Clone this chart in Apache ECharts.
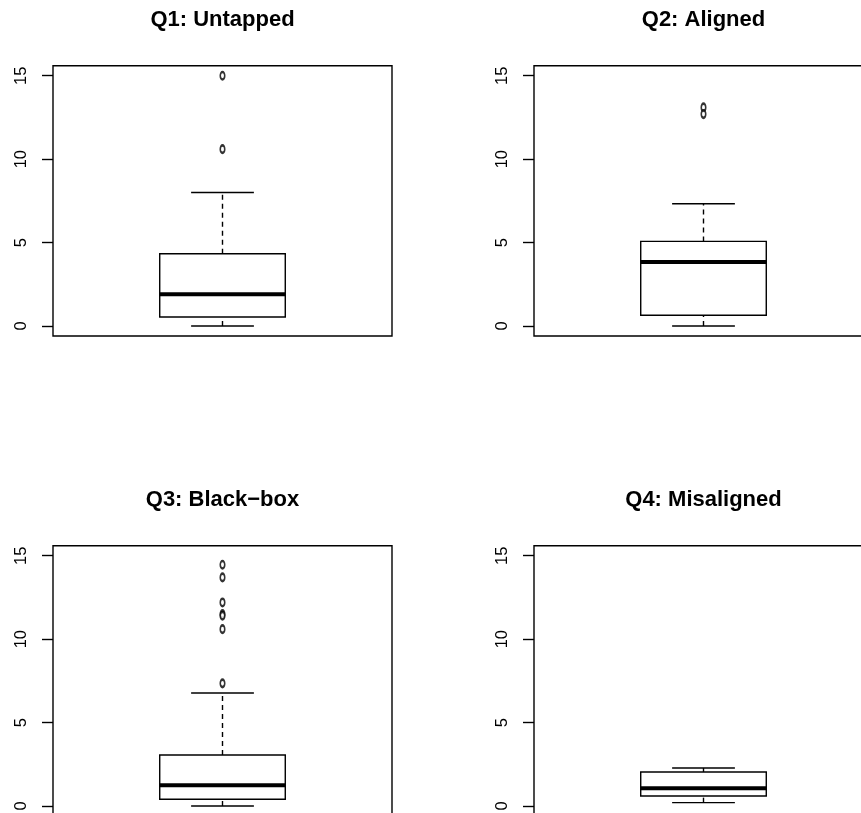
<!DOCTYPE html>
<html>
<head>
<meta charset="utf-8">
<script src="https://cdn.jsdelivr.net/npm/echarts@6/dist/echarts.min.js"></script>
<style>
html,body{margin:0;padding:0;background:#fff;overflow:hidden;width:861px;height:813px;}
#c{width:900px;height:840px;}
</style>
</head>
<body>
<div id="c"></div>
<script>
// ---- data ----
const titles = ['Q1: Untapped', 'Q2: Aligned', 'Q3: Black\u2212box', 'Q4: Misaligned'];
const lowerWhisker = [0, 0, 0, 0.2];
const q1Values = [0.54, 0.64, 0.40, 0.60];
const medianValues = [1.9, 3.83, 1.24, 1.06];
const q3Values = [4.33, 5.07, 3.06, 2.04];
const upperWhisker = [8.0, 7.33, 6.77, 2.28];
const outlierValues = [
  [15.0, 10.6],
  [13.1, 12.7],
  [14.46, 13.7, 12.2, 11.5, 11.4, 10.6, 7.35],
  []
];
const yTicks = [0, 5, 10, 15];
const yMin = -0.6, yMax = 15.6;

// ---- layout ----
const panels = [
  {left: 53, top: 65.7, cx: 222.5, ty: 19.5},
  {left: 534, top: 65.7, cx: 703.5, ty: 19.5},
  {left: 53, top: 545.7, cx: 222.5, ty: 499.5},
  {left: 534, top: 545.7, cx: 703.5, ty: 499.5}
];
const PW = 339, PH = 270.3;
const FONT = '"Liberation Sans", Arial, Helvetica, sans-serif';

const chart = echarts.init(document.getElementById('c'), null, {renderer: 'canvas'});

const grid = [], xAxis = [], yAxis = [], series = [], graphic = [];
panels.forEach((p, i) => {
  grid.push({left: p.left, top: p.top, width: PW, height: PH, show: true,
    borderColor: '#000', borderWidth: 1.4, backgroundColor: 'transparent'});
  xAxis.push({type: 'value', gridIndex: i, min: 0.46, max: 1.54, show: false});
  yAxis.push({type: 'value', gridIndex: i, min: yMin, max: yMax,
    splitLine: {show: false},
    axisLine: {show: false},
    axisTick: {show: true, length: 11, customValues: yTicks, lineStyle: {color: '#000', width: 1.4}},
    axisLabel: {show: true, customValues: yTicks, rotate: 90, margin: 23, fontSize: 16.5,
      color: '#000', fontFamily: FONT}
  });
  series.push({
    type: 'custom', xAxisIndex: i, yAxisIndex: i, silent: true, clip: false,
    data: [[1, lowerWhisker[i], q1Values[i], medianValues[i], q3Values[i], upperWhisker[i]]],
    renderItem: function (params, api) {
      const x = api.value(0), lo = api.value(1), qa = api.value(2), md = api.value(3), qb = api.value(4), hi = api.value(5);
      const c = (a, b) => api.coord([a, b]);
      const line = (p1, p2, w, dash) => ({type: 'line',
        shape: {x1: p1[0], y1: p1[1], x2: p2[0], y2: p2[1]},
        style: {stroke: '#000', lineWidth: w, lineDash: dash || null, fill: null}});
      const tl = c(0.8, qb), br = c(1.2, qa);
      return {type: 'group', children: [
        line(c(x, qb), c(x, hi), 1.4, [5, 4]),
        line(c(x, lo), c(x, qa), 1.4, [5, 4]),
        line(c(0.9, hi), c(1.1, hi), 1.4),
        line(c(0.9, lo), c(1.1, lo), 1.4),
        {type: 'rect', shape: {x: tl[0], y: tl[1], width: br[0] - tl[0], height: br[1] - tl[1]},
          style: {fill: '#fff', stroke: '#000', lineWidth: 1.4}},
        line(c(0.8, md), c(1.2, md), 4)
      ]};
    }
  });
  series.push({
    type: 'scatter', xAxisIndex: i, yAxisIndex: i, silent: true,
    data: outlierValues[i].map(v => [1, v]),
    symbol: 'circle', symbolSize: [4.5, 7.5],
    itemStyle: {color: '#fff', borderColor: '#000', borderWidth: 2}
  });
  graphic.push({type: 'text', x: p.cx, y: p.ty, silent: true,
    style: {text: titles[i], fill: '#000', font: 'bold 22px ' + FONT,
      textAlign: 'center', textVerticalAlign: 'middle'}});
});

chart.setOption({
  animation: false,
  backgroundColor: '#fff',
  grid, xAxis, yAxis, series, graphic
});
</script>
</body>
</html>
